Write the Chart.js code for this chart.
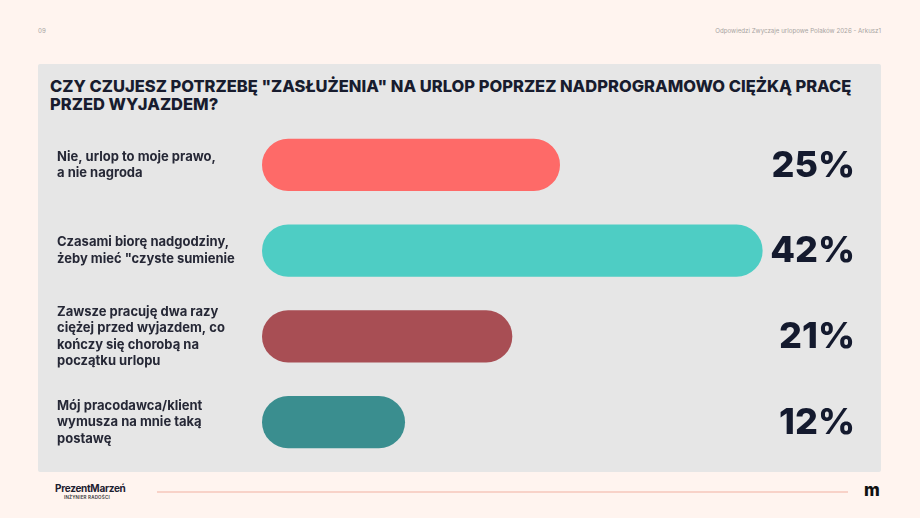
<!DOCTYPE html>
<html lang="pl">
<head>
<meta charset="utf-8">
<script src="https://cdn.jsdelivr.net/npm/chart.js@4/dist/chart.umd.min.js"></script>
<style>
  html, body { margin: 0; padding: 0; }
  body { width: 920px; height: 518px; background: #fff4ef; position: relative; overflow: hidden; font-family: Inter, "Noto Sans", sans-serif; }
  .hdr { position: absolute; top: 27px; font-size: 6.2px; color: #a8a4a2; }
  .panel { position: absolute; left: 38px; top: 64px; width: 843px; height: 408px; background: #e6e6e6; border-radius: 2px; }
  .title { position: absolute; left: 50px; top: 77px; font-family: Inter, sans-serif; font-weight: 800; font-size: 16.5px; line-height: 18px; color: #181c2e; }
  .wrap { position: absolute; left: 38px; top: 122px; width: 843px; height: 348px; }
  .logo { position: absolute; left: 55px; top: 482px; font-family: Inter, sans-serif; font-weight: 700; font-size: 10px; color: #1d2030; letter-spacing: -0.3px; }
  .logo small { display: block; font-size: 4.5px; font-weight: 600; letter-spacing: 0.2px; margin-left: 9px; margin-top: 1px; color: #333; }
  .line { position: absolute; left: 157px; top: 491px; width: 691px; height: 2px; background: #f8d2c8; }
  .mark { position: absolute; left: 864px; top: 480px; font-family: Inter, sans-serif; font-weight: 800; font-size: 17px; color: #111; }
</style>
</head>
<body>
<div class="hdr" style="left:38px">09</div>
<div class="hdr" style="right:39px">Odpowiedzi Zwyczaje urlopowe Polaków 2026 - Arkusz1</div>
<div class="panel"></div>
<div class="title">CZY CZUJESZ POTRZEBĘ "ZASŁUŻENIA" NA URLOP POPRZEZ NADPROGRAMOWO CIĘŻKĄ PRACĘ<br>PRZED WYJAZDEM?</div>
<div class="wrap"><canvas id="c"></canvas></div>
<div class="logo">PrezentMarzeń<small>INŻYNIER RADOŚCI</small></div>
<div class="line"></div>
<div class="mark">m</div>
<script>
// answers (multi-line, as in the slide)
const answers = [
  ['Nie, urlop to moje prawo,', 'a nie nagroda'],
  ['Czasami biorę nadgodziny,', 'żeby mieć "czyste sumienie'],
  ['Zawsze pracuję dwa razy', 'ciężej przed wyjazdem, co', 'kończy się chorobą na', 'początku urlopu'],
  ['Mój pracodawca/klient', 'wymusza na mnie taką', 'postawę']
];
const shares = [25, 42, 21, 12];
const barColors = ['#fe6a68', '#4ecdc4', '#a84e54', '#3a8e8f'];

// percent labels on the right
const percentLabels = {
  id: 'percentLabels',
  afterDatasetsDraw(chart) {
    const ctx = chart.ctx;
    const y = chart.scales.y;
    ctx.save();
    ctx.font = '800 36px Inter, sans-serif';
    ctx.fillStyle = '#141a2e';
    ctx.textAlign = 'right';
    ctx.textBaseline = 'middle';
    shares.forEach((v, i) => {
      ctx.fillText(v + '%', chart.chartArea.right - 3, y.getPixelForValue(i) + 1);
    });
    ctx.restore();
  }
};

function draw() {
  new Chart(document.getElementById('c'), {
    type: 'bar',
    data: {
      labels: answers,
      datasets: [{
        data: shares,
        backgroundColor: barColors,
        borderRadius: 30,
        borderSkipped: false,
        barPercentage: 0.61,
        categoryPercentage: 1
      }]
    },
    options: {
      indexAxis: 'y',
      responsive: true,
      maintainAspectRatio: false,
      animation: false,
      layout: { padding: { left: 19, right: 23, top: 0, bottom: 5 } },
      plugins: { legend: { display: false }, tooltip: { enabled: false } },
      scales: {
        x: { display: false, min: 0, max: 50 },
        y: {
          grid: { display: false },
          border: { display: false },
          ticks: {
            crossAlign: 'far',
            color: '#262836',
            font: { family: 'Inter', weight: 700, size: 13, lineHeight: 1.27 }
          },
          afterFit(scale) {
            scale.width = 205;
            scale.paddingTop = 0;
            scale.paddingBottom = 0;
          }
        }
      }
    },
    plugins: [percentLabels]
  });
}

Promise.all([
  document.fonts.load('700 13px Inter'),
  document.fonts.load('800 36px Inter')
]).then(draw, draw);
</script>
</body>
</html>
